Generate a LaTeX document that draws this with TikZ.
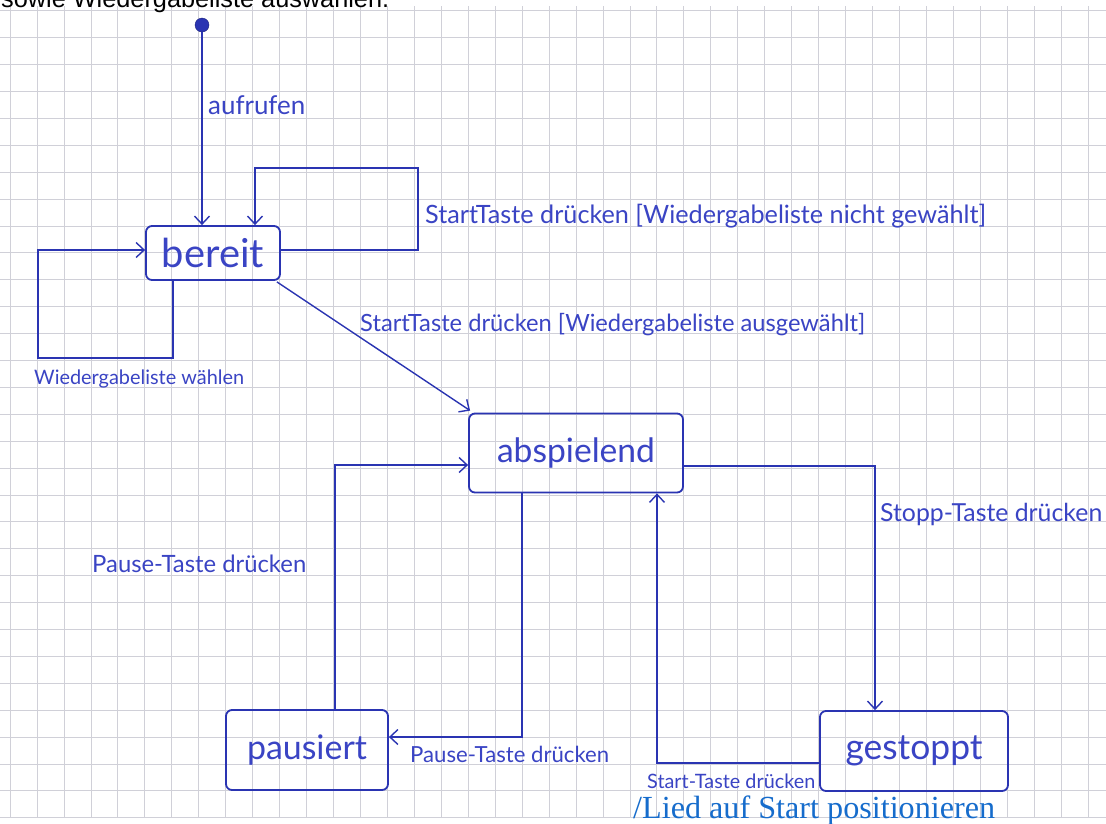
\documentclass[tikz,border=0pt]{standalone}
\usepackage{fontspec}
\setmainfont{Lato}
\newfontfamily\printsans{Liberation Sans}
\newfontfamily\printserif{Liberation Serif}
\usetikzlibrary{arrows.meta,calc}
\definecolor{ink}{RGB}{42,52,178}
\definecolor{inktext}{RGB}{58,68,196}
\definecolor{gridc}{RGB}{208,208,216}
\definecolor{printblue}{RGB}{22,108,204}
\newcommand\fitw[2]{\resizebox{#1pt}{!}{#2}}
\tikzset{
  statebox/.style={draw=ink, line width=1.8pt, rounded corners=6pt, inner sep=0pt, text=inktext},
  conn/.style={draw=ink, line width=1.4pt},
  arr/.style={conn, -{Straight Barb[length=8pt,width=15pt,line width=1.4pt]}},
  lbl/.style={anchor=west, inner sep=0pt, text=inktext, font=\fontsize{20}{24}\selectfont},
  gridline/.style={draw=gridc, line width=0.7pt}
}
\begin{document}
\begin{tikzpicture}[x=1pt,y=-1pt]
\useasboundingbox (0,0) rectangle (1106,823);
\fill[white] (0,0) rectangle (1106,823);
% grid paper
\foreach \i in {0,...,40} {\draw[gridline] (10+26.95*\i,6) -- (10+26.95*\i,818);}
\foreach \j in {0,...,30} {\draw[gridline] (0,10.7+26.9*\j) -- (1106,10.7+26.9*\j);}
% printed texts
\node[anchor=base west, inner sep=0pt, text=black, font=\printsans\fontsize{24}{28}\selectfont] (toptext) at (1,7) {\fitw{388}{sowie Wiedergabeliste auswählen.}};
\node[anchor=base west, inner sep=0pt, text=printblue, font=\printserif\fontsize{30}{34}\selectfont] (bottomtext) at (633,818) {\fitw{362}{/Lied auf Start positionieren}};
% states
\node[circle, fill=ink, draw=ink!70!black, inner sep=0pt, minimum size=14pt] (init) at (202,25) {};
\node[statebox, minimum width=134pt, minimum height=54pt] (bereit) at (213,253)
  {\raisebox{-9pt}{\fontsize{32}{36}\selectfont\fitw{102}{bereit}}};
\node[statebox, minimum width=214pt, minimum height=79pt] (abspielend) at (576,453)
  {\raisebox{-2pt}{\fontsize{32}{36}\selectfont\fitw{158}{abspielend}}};
\node[statebox, minimum width=162pt, minimum height=80pt] (pausiert) at (307,750)
  {\raisebox{-2pt}{\fontsize{32}{36}\selectfont\fitw{120}{pausiert}}};
\node[statebox, minimum width=188pt, minimum height=80pt] (gestoppt) at (914,751)
  {\raisebox{-10pt}{\fontsize{32}{36}\selectfont\fitw{137}{gestoppt}}};
% bend points
\coordinate (t1) at (418,250);
\coordinate (t2) at (255,168);
\coordinate (l1) at (173,358);
\coordinate (l2) at (38,250);
\coordinate (s1) at (875,466);
\coordinate (g1) at (657,763);
\coordinate (p1) at (522,737);
\coordinate (q1) at (335,465);
% connectors
\draw[arr] (init) -- (init |- bereit.north);
\draw[arr] (bereit.east |- t1) -- (t1) |- (t2) -- (t2 |- bereit.north);
\draw[arr] (l1 |- bereit.south) -- (l1) -| (l2) -- (bereit.west |- l2);
\draw[arr] ([xshift=-4pt,yshift=-1pt]bereit.south east) -- ([xshift=2pt,yshift=2pt]abspielend.north west);
\draw[arr] (abspielend.east |- s1) -- (s1) -- (s1 |- gestoppt.north);
\draw[arr] (gestoppt.west |- g1) -- (g1) -- (g1 |- abspielend.south);
\draw[arr] (p1 |- abspielend.south) -- (p1) -- (pausiert.east |- p1);
\draw[arr] (q1 |- pausiert.north) -- (q1) -- (abspielend.west |- q1);
% labels
\node[lbl] (lab1) at (208,105) {\fitw{97}{aufrufen}};
\node[lbl] (lab2) at (425,216) {\fitw{561}{StartTaste drücken [Wiedergabeliste nicht gewählt]}};
\node[lbl] (lab3) at (34,379) {\fitw{210}{Wiedergabeliste wählen}};
\node[lbl] (lab4) at (360,325) {\fitw{505}{StartTaste drücken [Wiedergabeliste ausgewählt]}};
\node[lbl] (lab5) at (880,514) {\fitw{222}{Stopp-Taste drücken}};
\node[lbl] (lab6) at (92,564) {\fitw{214}{Pause-Taste drücken}};
\node[lbl] (lab7) at (410,754) {\fitw{199}{Pause-Taste drücken}};
\node[lbl] (lab8) at (647,781) {\fitw{168}{Start-Taste drücken}};
\end{tikzpicture}
\end{document}
